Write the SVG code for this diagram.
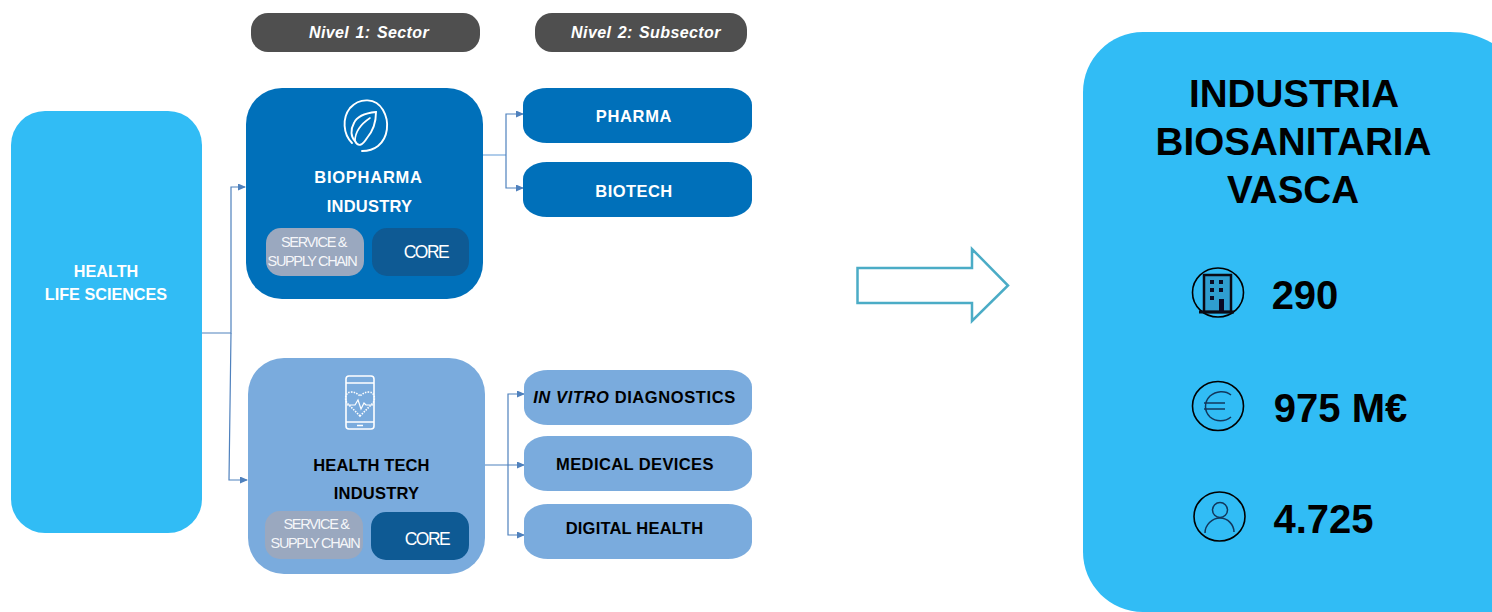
<svg xmlns="http://www.w3.org/2000/svg" width="1492" height="612" viewBox="0 0 1492 612">
<style>
text{font-family:"Liberation Sans",Arial,sans-serif;text-anchor:middle}
.w{fill:#fff}
.k{fill:#000}
.h{font-size:16px;font-weight:700;font-style:italic;fill:#fff;letter-spacing:.4px;word-spacing:1.5px}
.n{font-size:16.5px;font-weight:700}
.s{font-size:14.5px;fill:#fff;letter-spacing:-1.35px;fill-opacity:.92}
.c{font-size:17.5px;fill:#fff;letter-spacing:-1.5px}
.big{font-size:38.6px;font-weight:700;fill:#000}
.val{font-size:40px;font-weight:700;fill:#000}
.ln{fill:none;stroke:#4f81bd;stroke-width:1.2}
.ic{fill:none;stroke:#fff;stroke-width:1.6}
.ring{fill:none;stroke:#000;stroke-width:1.6}
.ic2{fill:none;stroke:#12375c;stroke-width:1.5}
</style>
<defs>
<marker id="a" markerWidth="8" markerHeight="8" refX="7" refY="3.5" orient="auto" markerUnits="userSpaceOnUse"><path d="M0 0L8 3.500L0 7z" fill="#4f81bd"/></marker>
</defs>
<g id="connectors">
<path class="ln" d="M202 333H231V187H245" marker-end="url(#a)"/>
<path class="ln" d="M231 333L229 480H247" marker-end="url(#a)"/>
<path class="ln" d="M483 155H506" style="stroke:#7aabdd"/>
<path class="ln" d="M506 155V114H523" marker-end="url(#a)"/>
<path class="ln" d="M506 155V188H523" marker-end="url(#a)"/>
<path class="ln" d="M485 465H524" marker-end="url(#a)"/>
<path class="ln" d="M508 465V394H524" marker-end="url(#a)"/>
<path class="ln" d="M508 465V535H524" marker-end="url(#a)"/>
</g>
<g id="node-health-life-sciences">
<rect x="11" y="111" width="191" height="422" rx="34" fill="#31bcf5"/>
<text class="n w" x="106" y="277" style="font-size:16.2px">HEALTH</text>
<text class="n w" x="106" y="300" style="font-size:16.2px">LIFE SCIENCES</text>
</g>
<g id="header-nivel-1">
<rect x="251" y="13" width="229" height="39" rx="17" fill="#4f4f4f"/>
<text class="h" x="369" y="38">Nivel 1: Sector</text>
</g>
<g id="header-nivel-2">
<rect x="535" y="13" width="212" height="39" rx="17" fill="#4f4f4f"/>
<text class="h" x="646" y="38">Nivel 2: Subsector</text>
</g>
<g id="node-biopharma">
<rect x="246" y="88" width="237" height="211" rx="36" fill="#0070ba"/>
<g stroke-linecap="round">
<path class="ic" style="stroke-width:1.900" d="M352 143C343 134 342 118 350 108C360 97 376 98 383 110C390 122 388 138 378 146C373 150 368 151 362 151"/>
<path class="ic" style="stroke-width:1.900" d="M376 112C366 113 357 116 354 123C350 130 351 137 355 141C358 147 362 146 367 138C373 131 376 122 376 112Z"/>
<path class="ic" style="stroke-width:1.600" d="M355 141C355 132 361 124 370 118"/>
</g>
<text class="n w" x="368.500" y="183" style="letter-spacing:.75px">BIOPHARMA</text>
<text class="n w" x="369.500" y="212" style="letter-spacing:.2px">INDUSTRY</text>
<rect x="266" y="228" width="98" height="48" rx="15" fill="#9aa8bf"/>
<text class="s" x="313.500" y="247">SERVICE &amp;</text>
<text class="s" x="312" y="266">SUPPLY CHAIN</text>
<rect x="372" y="228" width="97" height="48" rx="15" fill="#0e5a94"/>
<text class="c" x="426" y="258">CORE</text>
</g>
<g id="node-healthtech">
<rect x="248" y="358" width="237" height="216" rx="36" fill="#7aabdd"/>
<rect class="ic" x="346" y="376" width="28" height="53" rx="3"/>
<path class="ic" d="M346 383H374M346 422H374M357 425.500H363"/>
<path class="ic" stroke-dasharray="1.500 1.200" d="M360 416L347 403C344 398 346 392 351 392C355 392 358 394 360 396C362 394 365 392 369 392C374 392 376 398 373 403Z"/>
<path class="ic" style="stroke-width:1.200" d="M347 405H355L358 400L361 409L364 403L366 405H373"/>
<text class="n k" x="371.500" y="471" style="letter-spacing:.1px">HEALTH TECH</text>
<text class="n k" x="376.500" y="499" style="letter-spacing:.2px">INDUSTRY</text>
<rect x="265" y="511" width="98" height="48" rx="15" fill="#9aa8bf"/>
<text class="s" x="316" y="529">SERVICE &amp;</text>
<text class="s" x="315" y="548">SUPPLY CHAIN</text>
<rect x="371" y="512" width="98" height="48" rx="15" fill="#0e5a94"/>
<text class="c" x="427" y="545">CORE</text>
</g>
<g id="node-pharma">
<rect x="523" y="88" width="229" height="55" rx="24" ry="17" fill="#0070ba"/>
<text class="n w" x="634" y="122" style="letter-spacing:.65px">PHARMA</text>
</g>
<g id="node-biotech">
<rect x="523" y="162" width="229" height="55" rx="24" ry="17" fill="#0070ba"/>
<text class="n w" x="634" y="197" style="letter-spacing:.45px">BIOTECH</text>
</g>
<g id="node-ivd">
<rect x="524" y="370" width="228" height="55" rx="24" ry="17" fill="#7aabdd"/>
<text class="n k" x="634.500" y="403" style="letter-spacing:.6px"><tspan font-style="italic">IN VITRO</tspan> DIAGNOSTICS</text>
</g>
<g id="node-medical">
<rect x="524" y="436" width="228" height="55" rx="24" ry="17" fill="#7aabdd"/>
<text class="n k" x="635" y="470" style="letter-spacing:.4px">MEDICAL DEVICES</text>
</g>
<g id="node-digital">
<rect x="524" y="504" width="228" height="55" rx="24" ry="17" fill="#7aabdd"/>
<text class="n k" x="634.500" y="534" style="letter-spacing:.2px">DIGITAL HEALTH</text>
</g>
<g id="big-arrow">
<path d="M857.500 268H972V249L1008 285.500L972 321V303H857.500Z" fill="#fff" stroke="#4bacc6" stroke-width="2.500"/>
</g>
<g id="node-industria">
<path d="M1492 43C1478 35 1465 32 1450 32H1143C1110 32 1083 59 1083 92V552C1083 585 1110 612 1143 612H1492Z" fill="#31bcf5"/>
<text class="big" x="1294" y="107">INDUSTRIA</text>
<text class="big" x="1293.500" y="155">BIOSANITARIA</text>
<text class="big" x="1293" y="203">VASCA</text>
<g id="icon-empresas">
<ellipse class="ring" cx="1218" cy="292.500" rx="25.500" ry="24.500"/>
<rect x="1204" y="275" width="27" height="37" fill="#2f9ed0" stroke="#0a0a14" stroke-width="2.500"/>
<path d="M1199 312H1234" stroke="#0a0a14" stroke-width="3"/>
<path d="M1210 280h4v4h-4zM1219 280h4v4h-4zM1210 288h4v4h-4zM1219 288h4v4h-4zM1210 296h4v4h-4zM1219 299h5v13h-5z" fill="#0a0a24"/>
</g>
<text class="val" x="1305" y="309">290</text>
<g id="icon-euro">
<ellipse class="ring" cx="1218" cy="406" rx="25.500" ry="24.500"/>
<path class="ic2" d="M1231 395C1225 390 1216 391 1210 396C1204 402 1204 411 1210 417C1216 422 1225 422 1231 417M1204 403H1225M1204 409H1225"/>
</g>
<text class="val" x="1340.500" y="422">975 M€</text>
<g id="icon-persona">
<ellipse class="ring" cx="1219.500" cy="516.500" rx="25.500" ry="24.500"/>
<circle class="ic2" cx="1220" cy="510" r="7.500"/>
<path class="ic2" d="M1205 533C1205 525 1212 518 1220 518C1228 518 1234 525 1234 532"/>
</g>
<text class="val" x="1323.500" y="533">4.725</text>
</g>
</svg>
